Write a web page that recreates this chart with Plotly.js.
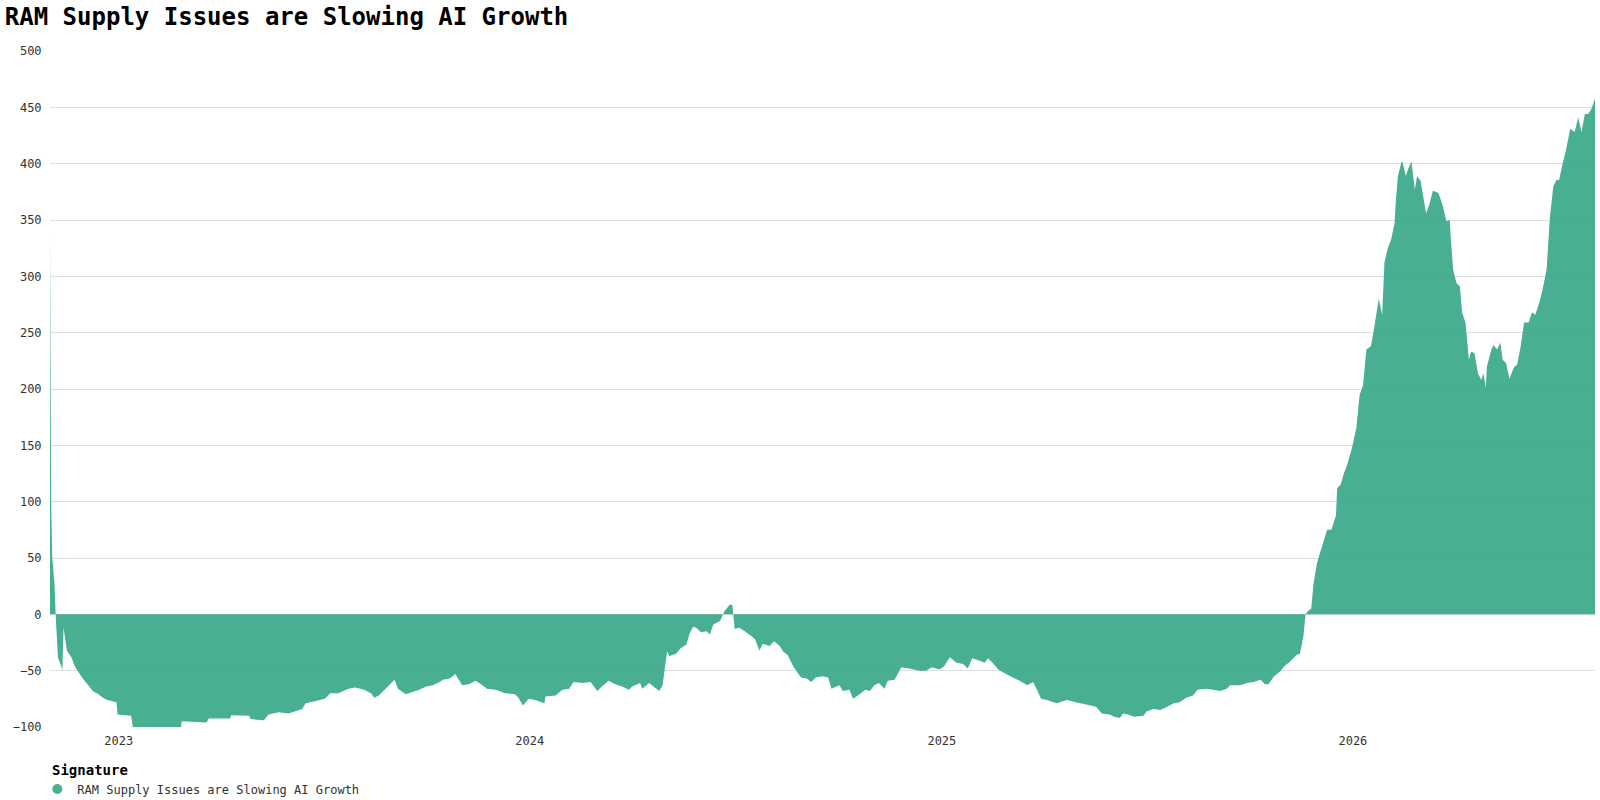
<!DOCTYPE html>
<html>
<head>
<meta charset="utf-8">
<script src="https://cdn.plot.ly/plotly-3.0.1.min.js"></script>
<style>
  html, body { margin: 0; padding: 0; background: #fff; }
  #chart { width: 1600px; height: 800px; }
</style>
</head>
<body>
<div id="chart"></div>
<script>
// ---- data (values below -100 are clipped by the axis) ----
const dates2022 = ['2022-11-01','2022-11-02','2022-11-03','2022-11-05','2022-11-06','2022-11-08','2022-11-11','2022-11-12','2022-11-13','2022-11-16','2022-11-20','2022-11-23','2022-11-26','2022-12-01','2022-12-05','2022-12-09','2022-12-14','2022-12-18','2022-12-22','2022-12-30','2022-12-31'];
const values2022 = [335, 100, 50, 27, 0, -38, -46, -50, -12, -32, -38, -46, -51, -58, -63, -68, -71, -74, -76, -78, -89];

const dates2023 = ['2023-01-12','2023-01-14','2023-02-25','2023-02-26','2023-03-20','2023-03-22','2023-04-10','2023-04-11','2023-04-27','2023-04-28','2023-05-10','2023-05-14','2023-05-23','2023-06-01','2023-06-07','2023-06-13','2023-06-16','2023-06-25','2023-07-03','2023-07-08','2023-07-15','2023-07-24','2023-07-30','2023-08-07','2023-08-13','2023-08-16','2023-08-20','2023-08-26','2023-09-03','2023-09-06','2023-09-13','2023-09-19','2023-09-25','2023-10-01','2023-10-07','2023-10-13','2023-10-16','2023-10-22','2023-10-27','2023-10-30','2023-11-02','2023-11-08','2023-11-14','2023-11-20','2023-11-24','2023-12-02','2023-12-10','2023-12-19','2023-12-22','2023-12-26','2023-12-31'];
const values2023 = [-90, -103, -103, -95, -96, -92.5, -92.5, -89.5, -90, -93, -94, -89, -87, -88, -86, -84, -79, -77, -75, -70, -70, -66, -65, -67, -70, -74, -72, -66, -58, -66, -71, -69, -67, -64, -63, -60, -58, -57, -53, -58, -63, -62, -59, -63, -66, -67, -70, -71, -74, -81, -75];

const dates2024 = ['2024-01-06','2024-01-14','2024-01-15','2024-01-24','2024-01-30','2024-02-05','2024-02-09','2024-02-17','2024-02-24','2024-03-01','2024-03-05','2024-03-11','2024-03-17','2024-03-23','2024-03-29','2024-04-01','2024-04-08','2024-04-10','2024-04-16','2024-04-25','2024-04-28','2024-05-02','2024-05-04','2024-05-10','2024-05-14','2024-05-19','2024-05-22','2024-05-25','2024-05-28','2024-06-01','2024-06-06','2024-06-09','2024-06-12','2024-06-18','2024-06-22','2024-06-27','2024-06-29','2024-07-01','2024-07-05','2024-07-10','2024-07-14','2024-07-19','2024-07-23','2024-07-26','2024-08-01','2024-08-05','2024-08-10','2024-08-13','2024-08-17','2024-08-22','2024-08-26','2024-08-29','2024-09-03','2024-09-07','2024-09-11','2024-09-17','2024-09-22','2024-09-25','2024-10-02','2024-10-05','2024-10-11','2024-10-14','2024-10-20','2024-10-25','2024-10-29','2024-11-02','2024-11-06','2024-11-11','2024-11-14','2024-11-20','2024-11-26','2024-12-03','2024-12-12','2024-12-18','2024-12-23','2024-12-30'];
const values2024 = [-76, -79, -73, -72, -67, -66, -60, -61, -60, -68, -64, -59, -62, -64, -67, -64, -61, -66, -61, -68, -63, -33, -37, -35, -30, -27, -17, -11, -12, -16, -15, -18, -9, -6, 3, 9, 8, -13, -12, -15, -18, -22, -32, -26, -28, -24, -28, -33, -36, -46, -52, -56, -57, -60, -56, -55, -56, -66, -63, -68, -67, -75, -71, -67, -68, -63, -61, -66, -59, -58, -47, -48, -50, -50, -47, -49];

const dates2025 = ['2025-01-03','2025-01-08','2025-01-14','2025-01-20','2025-01-24','2025-01-28','2025-02-03','2025-02-08','2025-02-11','2025-02-15','2025-02-20','2025-02-27','2025-03-05','2025-03-11','2025-03-18','2025-03-23','2025-03-27','2025-03-30','2025-04-04','2025-04-13','2025-04-22','2025-04-30','2025-05-09','2025-05-18','2025-05-23','2025-05-30','2025-06-03','2025-06-08','2025-06-11','2025-06-15','2025-06-21','2025-06-29','2025-07-02','2025-07-08','2025-07-14','2025-07-20','2025-07-26','2025-07-31','2025-08-06','2025-08-12','2025-08-16','2025-08-24','2025-08-30','2025-09-05','2025-09-11','2025-09-14','2025-09-23','2025-09-29','2025-10-05','2025-10-11','2025-10-15','2025-10-18','2025-10-23','2025-10-29','2025-11-01','2025-11-06','2025-11-12','2025-11-15','2025-11-18','2025-11-20','2025-11-22','2025-11-25','2025-11-27','2025-11-30','2025-12-03','2025-12-07','2025-12-09','2025-12-13','2025-12-17','2025-12-18','2025-12-21','2025-12-24','2025-12-27','2025-12-31'];
const values2025 = [-46, -38, -43, -44, -48, -39, -41, -43, -39, -43, -49, -53, -56, -59, -63, -60, -68, -75, -76, -79, -76, -78, -80, -82, -88, -89, -91, -92, -88, -89, -91, -90, -86, -84, -85, -82, -79, -78, -74, -72, -67, -66, -67, -68, -66, -63, -63, -61, -60, -58, -62, -62, -55, -50, -46, -42, -36, -35, -20, 0, 3, 5, 27, 45, 55, 68, 75, 75, 88, 112, 115, 125, 133, 147];

const dates2026 = ['2026-01-04','2026-01-07','2026-01-10','2026-01-13','2026-01-17','2026-01-20','2026-01-24','2026-01-27','2026-01-29','2026-02-01','2026-02-04','2026-02-07','2026-02-08','2026-02-10','2026-02-13','2026-02-14','2026-02-17','2026-02-19','2026-02-22','2026-02-25','2026-02-27','2026-03-02','2026-03-05','2026-03-07','2026-03-10','2026-03-13','2026-03-18','2026-03-22','2026-03-25','2026-03-28','2026-03-29','2026-03-31','2026-04-03','2026-04-06','2026-04-08','2026-04-11','2026-04-14','2026-04-16','2026-04-19','2026-04-22','2026-04-25','2026-04-27','2026-04-29','2026-04-30','2026-05-04','2026-05-06','2026-05-09','2026-05-12','2026-05-14','2026-05-17','2026-05-20','2026-05-24','2026-05-27','2026-05-30','2026-06-02','2026-06-06','2026-06-09','2026-06-12','2026-06-16','2026-06-19','2026-06-22','2026-06-25','2026-06-28','2026-07-01','2026-07-03','2026-07-06','2026-07-09','2026-07-13','2026-07-17','2026-07-20','2026-07-23','2026-07-26','2026-07-29','2026-08-01','2026-08-04'];
const values2026 = [165, 195, 203, 235, 238, 255, 280, 266, 312, 325, 333, 347, 365, 389, 401, 402, 389, 395, 402, 377, 389, 385, 368, 356, 364, 376, 374, 362, 349, 350, 333, 306, 294, 291, 268, 259, 226, 233, 232, 214, 208, 214, 201, 220, 235, 239, 235, 241, 226, 223, 209, 219, 222, 238, 259, 259, 268, 266, 278, 291, 306, 353, 380, 386, 385, 399, 411, 431, 428, 441, 428, 444, 444, 449, 458];

const seriesName = 'RAM Supply Issues are Slowing AI Growth';
const chartTitle = 'RAM Supply Issues are Slowing AI Growth';
const legendTitle = 'Signature';
const yTicks = [-100, -50, 0, 50, 100, 150, 200, 250, 300, 350, 400, 450, 500];

const dates = [].concat(dates2022, dates2023, dates2024, dates2025, dates2026);
const values = [].concat(values2022, values2023, values2024, values2025, values2026);

const FONT = '"DejaVu Sans Mono", "Liberation Mono", monospace';
const GREEN = '#4aaf92';

const traces = [
  {
    type: 'scatter',
    x: dates,
    y: values,
    mode: 'none',
    fill: 'tozeroy',
    fillcolor: 'rgba(58,168,137,0.92)',
    showlegend: false,
    hoverinfo: 'x+y'
  },
  {
    type: 'scatter',
    x: [null],
    y: [null],
    mode: 'markers',
    name: seriesName,
    marker: { color: GREEN, size: 10, symbol: 'circle' },
    showlegend: true,
    hoverinfo: 'skip'
  }
];

const layout = {
  width: 1600,
  height: 800,
  paper_bgcolor: '#ffffff',
  plot_bgcolor: '#ffffff',
  margin: { l: 50, r: 5, t: 51, b: 73 },
  font: { family: FONT, size: 12, color: '#333' },
  title: {
    text: chartTitle,
    font: { family: FONT, size: 24, color: '#000', weight: 700 },
    xref: 'container', x: 0.003, xanchor: 'left',
    yref: 'container', y: 0.979, yanchor: 'middle'
  },
  xaxis: {
    type: 'date',
    range: [dates[0], dates[dates.length - 1]],
    showgrid: false,
    zeroline: false,
    showline: false,
    ticks: 'outside',
    ticklen: 3,
    tickcolor: 'rgba(0,0,0,0)',
    dtick: 'M12',
    tick0: '2023-01-01',
    tickformat: '%Y',
    tickfont: { family: FONT, size: 12, color: '#333' }
  },
  yaxis: {
    range: [-100, 500],
    tickvals: yTicks,
    showgrid: true,
    gridcolor: '#dedede',
    gridwidth: 1,
    zeroline: false,
    showline: false,
    ticks: 'outside',
    ticklen: 5,
    tickcolor: 'rgba(0,0,0,0)',
    tickfont: { family: FONT, size: 12, color: '#333' }
  },
  showlegend: true,
  legend: {
    orientation: 'h',
    xref: 'paper', x: -0.0082, xanchor: 'left',
    yref: 'container', y: 0.01375, yanchor: 'middle',
    font: { family: FONT, size: 12, color: '#333' },
    itemwidth: 30,
    bgcolor: 'rgba(0,0,0,0)'
  },
  annotations: [
    {
      text: legendTitle,
      showarrow: false,
      xref: 'paper', x: 0, xanchor: 'left',
      yref: 'paper', y: -0.0636, yanchor: 'middle',
      font: { family: FONT, size: 14, color: '#000', weight: 700 }
    }
  ],
  hovermode: 'closest'
};

Plotly.newPlot('chart', traces, layout, { displayModeBar: false, staticPlot: true });
</script>
</body>
</html>
